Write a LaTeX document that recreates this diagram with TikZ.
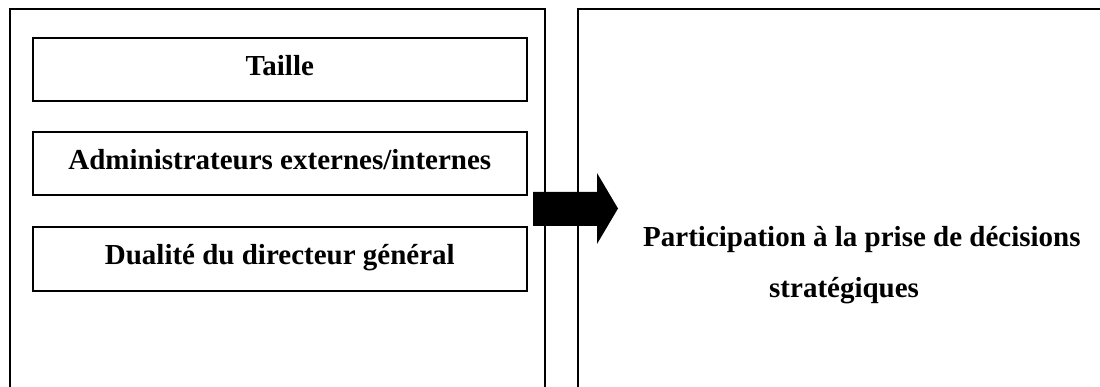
\documentclass[tikz,border=0pt]{standalone}
\usepackage{fontspec}
\setmainfont{Liberation Serif}
\begin{document}
\begin{tikzpicture}[x=1pt, y=-1pt,
  framestyle/.style={draw=black, line width=1.6pt, anchor=north west, inner sep=0pt},
  itemstyle/.style={draw=black, line width=1.6pt, anchor=north west, inner sep=0pt, minimum width=494pt, text height=38pt, text depth=25pt, font=\fontsize{29}{34}\selectfont\bfseries}]
  \useasboundingbox (0,0) rectangle (1100,387);
  \clip (0,0) rectangle (1100,387);

  \node [framestyle, minimum width=535pt, minimum height=400pt] (Left) at (9,8) {};
  \node [framestyle, minimum width=540pt, minimum height=400pt] (Right) at (577,8) {};

  \node [itemstyle] (Taille) at (32,37) {Taille};
  \node [itemstyle] (Admin) at (32,131) {Administrateurs externes/internes};
  \node [itemstyle, text depth=26pt] (Dual) at (32,226) {Dualité du directeur général};

  \fill [black] (533,192) -- (597,192) -- (597,173) -- (618,208.5) -- (597,244) -- (597,226) -- (533,226) -- cycle;

  \node [anchor=base west, align=left, inner sep=0pt, font=\fontsize{29}{51}\selectfont\bfseries] (Part) at (643,298) {Participation à la prise de décisions\\\hspace*{126pt}stratégiques};
\end{tikzpicture}
\end{document}
